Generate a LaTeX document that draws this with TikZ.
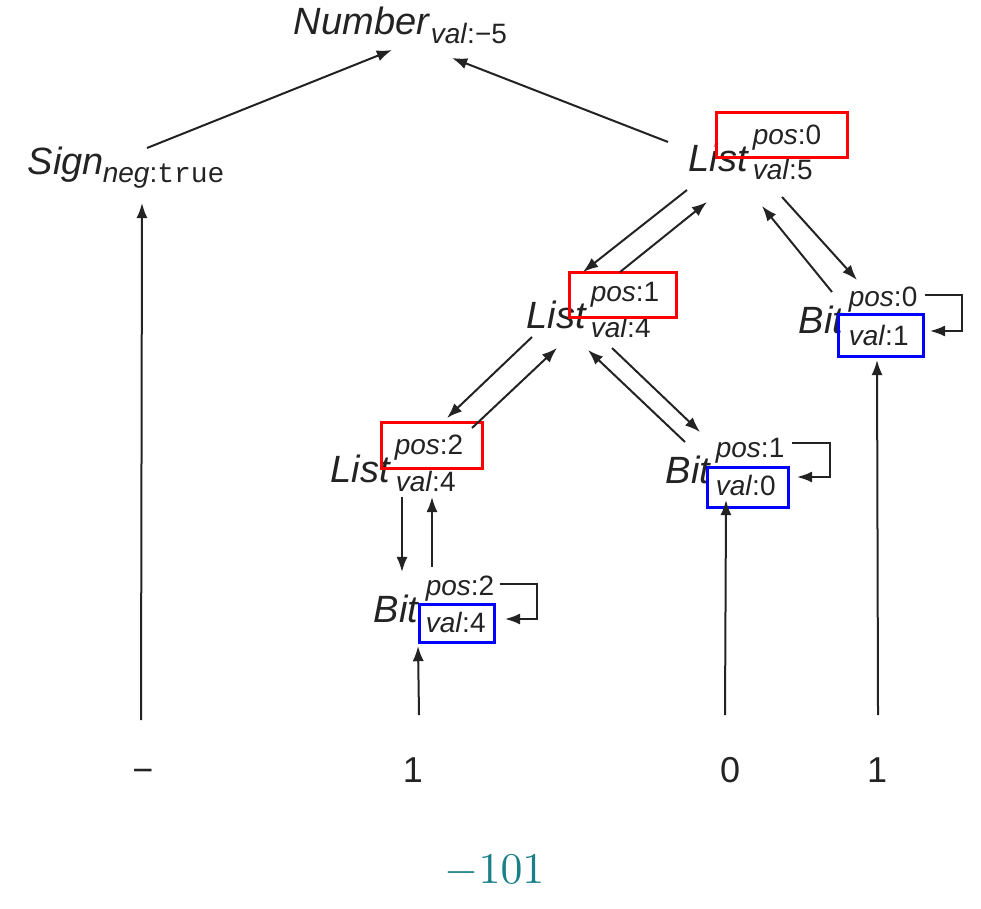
\documentclass[tikz,border=0pt]{standalone}
\usepackage{fontspec}
\setmainfont{Liberation Sans}
\newfontfamily\monofont{Liberation Mono}
\usetikzlibrary{arrows.meta}
\usepackage{xcolor}
\definecolor{ink}{RGB}{35,35,35}
\definecolor{resteal}{RGB}{25,128,138}

\begin{document}
\begin{tikzpicture}[x=0.25pt,y=-0.25pt]
\useasboundingbox (0,0) rectangle (981,908);

\tikzset{sym/.style = {anchor=base west,inner sep=0pt,text=ink,font=\fontsize{9.5}{11}\selectfont\itshape}}
\tikzset{attr/.style = {anchor=base west,inner sep=0pt,text=ink,font=\fontsize{7}{8}\selectfont}}
\tikzset{leaf/.style = {anchor=base,inner sep=0pt,text=ink,font=\fontsize{9}{11}\selectfont}}
\tikzset{posbox/.style 2 args = {draw=red,line width=0.75pt,inner sep=0pt,outer sep=0pt,minimum width=#1,minimum height=#2}}
\tikzset{valbox/.style 2 args = {draw=blue,line width=0.75pt,inner sep=0pt,outer sep=0pt,minimum width=#1,minimum height=#2}}
\tikzset{edge/.style = {-{Latex[length=3.8pt,width=2.8pt]},draw=ink,line width=0.5pt}}

\node[sym] (num) at (293,35) {Number};
\node[attr] (numval) at (430,44) {\textit{val}:−5};
\node[sym] (sign) at (27,175) {Sign};
\node[attr] (signneg) at (102,183) {\textit{neg}:{\monofont true}};
\node[sym] (list0) at (688,172) {List};
\node[attr] (list0pos) at (752,145) {\textit{pos}:0};
\node[attr] (list0val) at (752,180) {\textit{val}:5};
\node[sym] (list1) at (526,328) {List};
\node[attr] (list1pos) at (590,301) {\textit{pos}:1};
\node[attr] (list1val) at (590,337) {\textit{val}:4};
\node[sym] (list2) at (330,482) {List};
\node[attr] (list2pos) at (394,454) {\textit{pos}:2};
\node[attr] (list2val) at (395,491) {\textit{val}:4};
\node[sym] (bit0) at (798,333) {Bit};
\node[attr] (bit0pos) at (848,307) {\textit{pos}:0};
\node[attr] (bit0val) at (848,345) {\textit{val}:1};
\node[sym] (bit1) at (665,483) {Bit};
\node[attr] (bit1pos) at (715,457) {\textit{pos}:1};
\node[attr] (bit1val) at (715,495) {\textit{val}:0};
\node[sym] (bit2) at (373,622) {Bit};
\node[attr] (bit2pos) at (425,595) {\textit{pos}:2};
\node[attr] (bit2val) at (425,632) {\textit{val}:4};

%boxes
\node[posbox={32.75pt}{11.25pt}] (pbox0) at (781.5,135.5) {};
\node[posbox={26.75pt}{11pt}] (pbox1) at (622.5,295) {};
\node[posbox={25.25pt}{11.5pt}] (pbox2) at (431.5,445) {};
\node[valbox={21.25pt}{10.5pt}] (vbox0) at (880.5,335) {};
\node[valbox={20.25pt}{10pt}] (vbox1) at (747.5,487) {};
\node[valbox={18.75pt}{9.5pt}] (vbox2) at (456.5,623) {};

%input
\node[leaf] (c0) at (143,782) {−};
\node[leaf] (c1) at (413,782) {1};
\node[leaf] (c2) at (730,782) {0};
\node[leaf] (c3) at (877,782) {1};
\node[anchor=base,inner sep=0pt,text=resteal,font=\fontsize{11}{13}\selectfont] (res) at (494.5,883) {$-101$};

%edges
\draw[edge] ([shift={(120,-27)}]sign.base west) -- ([shift={(99,15)}]num.base west);
\draw[edge] ([shift={(-20,-30)}]list0.base west) -- ([shift={(159,23)}]num.base west);
\draw[edge] ([shift={(-1,18)}]list0.base west) -- ([shift={(57,-56)}]list1.base west);
\draw[edge] ([shift={(94,-56)}]list1.base west) -- ([shift={(19,30)}]list0.base west);
\draw[edge] ([shift={(94,25)}]list0.base west) -- ([shift={(59,-53)}]bit0.base west);
\draw[edge] ([shift={(34,-41)}]bit0.base west) -- ([shift={(74,34)}]list0.base west);
\draw[edge] ([shift={(6,9)}]list1.base west) -- ([shift={(117,-64)}]list2.base west);
\draw[edge] ([shift={(142,-54)}]list2.base west) -- ([shift={(31,20)}]list1.base west);
\draw[edge] ([shift={(86,20)}]list1.base west) -- ([shift={(35,-51)}]bit1.base west);
\draw[edge] ([shift={(20,-41)}]bit1.base west) -- ([shift={(62,22)}]list1.base west);
\draw[edge] ([shift={(72,15)}]list2.base west) -- ([shift={(29,-50)}]bit2.base west);
\draw[edge] ([shift={(59,-55)}]bit2.base west) -- ([shift={(102,15)}]list2.base west);

%self loops
\draw[edge] ([shift={(2,-19)}]vbox0.north east) -| ([shift={(39,-4)}]vbox0.east) -- ([shift={(7,-4)}]vbox0.east);
\draw[edge] ([shift={(4,-24)}]vbox1.north east) -| ([shift={(42,-10)}]vbox1.east) -- ([shift={(9,-10)}]vbox1.east);
\draw[edge] ([shift={(6,-20)}]vbox2.north east) -| ([shift={(43,-4)}]vbox2.east) -- ([shift={(11,-4)}]vbox2.east);

%input edges
\draw[edge] ([shift={(-2,-62)}]c0.base) -- ([shift={(115,28)}]sign.base west);
\draw[edge] ([shift={(6,-67)}]c1.base) -- ([shift={(45,24)}]bit2.base west);
\draw[edge] ([shift={(-5,-67)}]c2.base) -- ([shift={(61,17)}]bit1.base west);
\draw[edge] ([shift={(1,-67)}]c3.base) -- ([shift={(79,27)}]bit0.base west);
\end{tikzpicture}
\end{document}
